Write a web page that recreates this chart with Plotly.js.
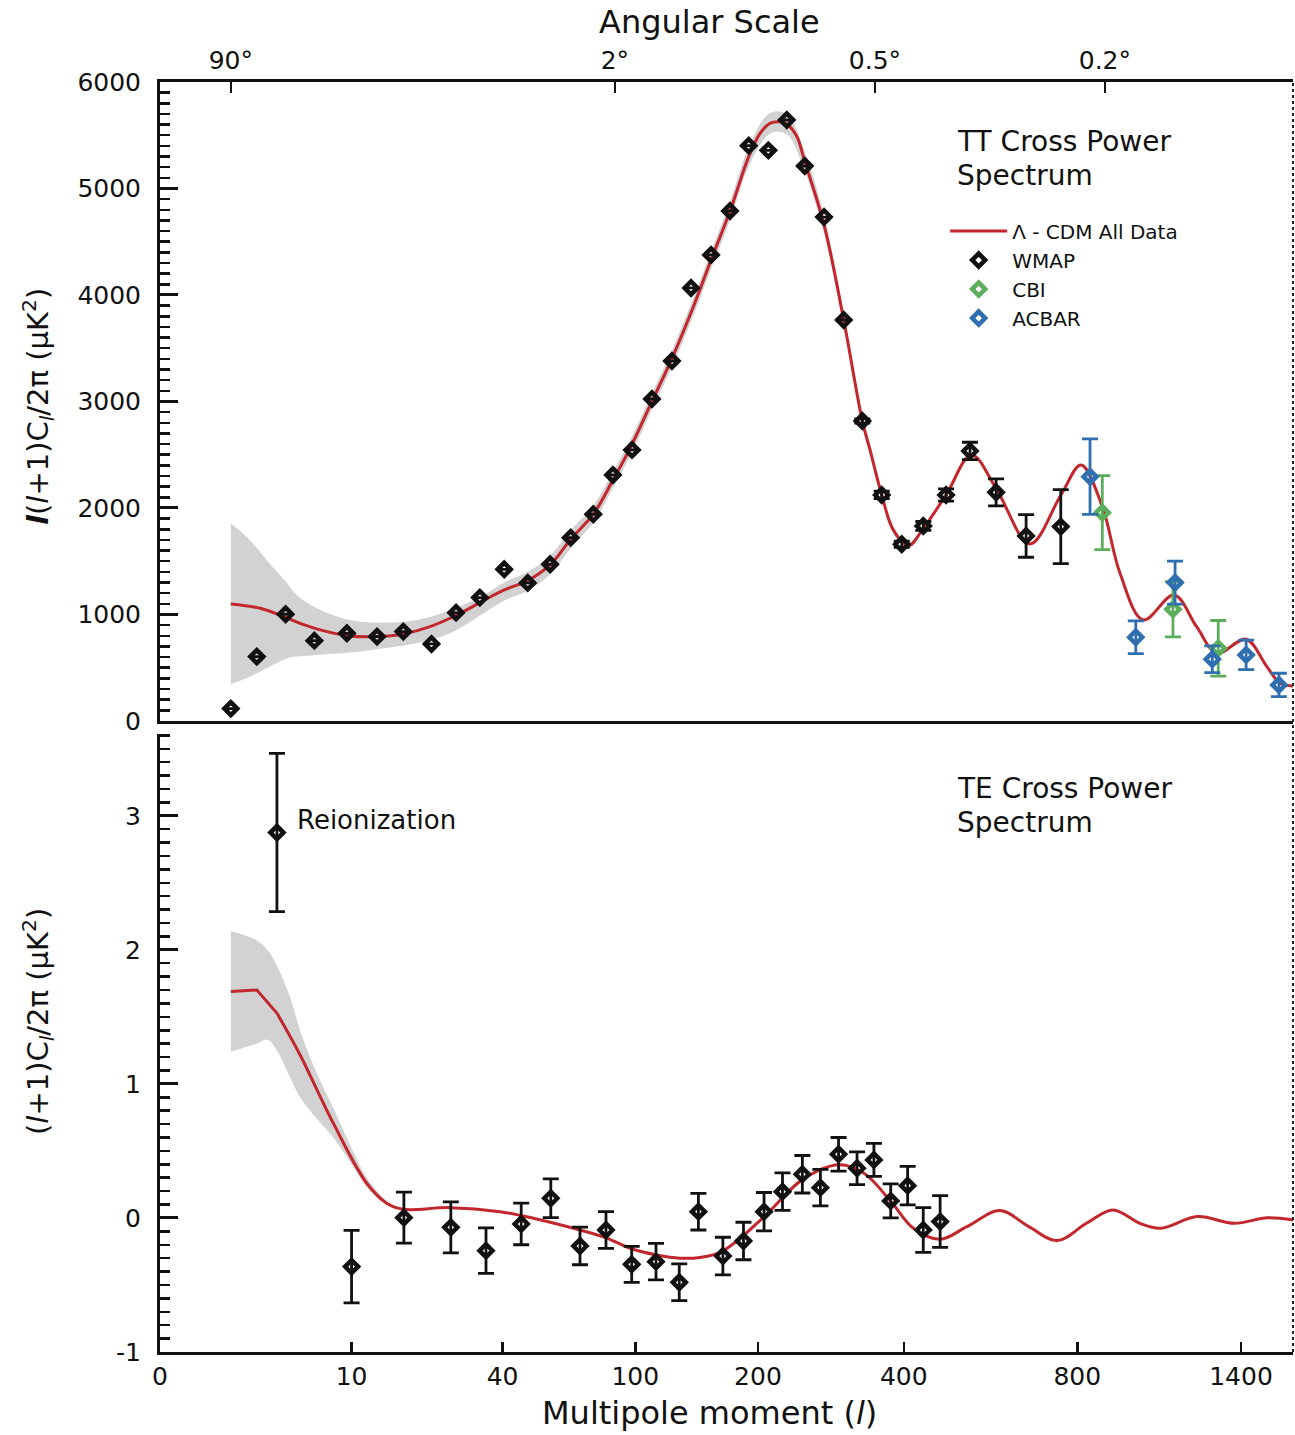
<!DOCTYPE html>
<html><head><meta charset="utf-8">
<script src="https://cdn.plot.ly/plotly-3.0.1.min.js"></script>
<style>html,body{margin:0;padding:0;background:#fff}#chart{width:1295px;height:1435px}</style>
</head><body><div id="chart"></div>
<script>
// ---------------- DATA ----------------
// TT model (Lambda-CDM all data)
const ttModelL = [2.0,3.15,4.37,5.44,7.24,9.83,13.1,17.0,21.8,27.6,34.4,40.5,48.4,56.9,65.7,76.5,86.9,96.8,110.6,125.2,139.9,155.6,172.9,190.6,202.2,212.8,222,231.6,243.4,253.2,277.9,305,332.4,344.2,362.8,382,408,435,479,532,587,670,753,811,876,933,1012,1124,1212,1295,1423,1519,1583,1650];
const ttModelV = [1099,1058,980,917,848,798,792,817,886,995,1130,1230,1318,1465,1706,1941,2263,2560,2998,3421,3859,4329,4798,5299,5518,5612,5627,5606,5490,5252,4660,3765,2817,2545,2122,1793,1646,1808,2122,2498,2184,1662,2122,2404,2012,1387,948,1183,885,636,767,510,354,329];
// TT cosmic-variance band
const ttBandL  = [2,2.7,3.46,4.6,5.2,6.7,9.8,14,19.3,26,34.4,40.5,48.4,56.9,65.7,76.5,86.9,96.8,110.6,125.2,139.9,155.6,172.9,190.6,212.8,231.6,253.2,277.9,305,332.4,344.2,362.8,382,408,435,479];
const ttBandLo = [347,416,495,589,605,620,642,683,730,823,1010,1130,1225,1375,1620,1860,2185,2485,2920,3340,3775,4245,4710,5205,5515,5510,5160,4575,3700,2760,2495,2080,1758,1616,1790,2110];
const ttBandHi = [1856,1700,1512,1293,1183,1058,948,923,948,1040,1180,1300,1400,1550,1790,2020,2340,2635,3075,3500,3940,4410,4885,5390,5710,5700,5345,4745,3830,2875,2595,2165,1828,1676,1826,2134];
// WMAP TT binned points
const wmapL = [2,3.0,4.5,6.5,9.5,13.1,17.0,22.1,27.4,33.4,40.5,48.4,56.9,65.7,76.5,86.9,98.0,110.7,124.6,139.1,155.6,172.5,190.6,211,231.6,253.2,277.9,305,332.4,362.8,396.4,435.1,479,528.6,587,660,752.6];
const wmapV = [116,604,1002,754,823,792,839,723,1017,1158,1424,1296,1471,1721,1941,2310,2545,3023,3380,4066,4376,4789,5402,5358,5643,5211,4732,3765,2817,2122,1659,1831,2122,2535,2147,1737,1825];
const wmapE = [null,null,null,null,null,null,null,null,null,null,null,null,null,null,null,null,null,null,null,null,null,null,null,null,null,null,null,null,20,35,30,42,58,82,127,200,347];
// CBI
const cbiL = [876,1120,1301];
const cbiV = [1956,1049,682];
const cbiE = [347,260,261];
// ACBAR
const acbarL = [838,986,1128,1276,1423,1577];
const acbarV = [2294,786,1299,579,620,338];
const acbarE = [355,153,202,125,138,110];

// TE model
const teModelL = [2,3,4,5.44,8.14,11.77,14.45,17,26,39.2,50.4,70,83.5,96.8,113.9,130.6,146,165,203,250,298,335,378,417,467,522,596,667,743,827,910,1000,1073,1215,1371,1522,1650];
const teModelV = [1.689,1.70,1.528,1.216,0.707,0.259,0.11,0.065,0.077,0.047,-0.002,-0.09,-0.15,-0.226,-0.276,-0.30,-0.295,-0.251,-0.015,0.284,0.396,0.333,0.122,-0.077,-0.159,-0.065,0.055,-0.065,-0.169,-0.04,0.06,-0.04,-0.077,0.01,-0.04,0.002,-0.015];
// TE band
const teBandL  = [2,3,3.5,4,4.77,5.44,6.5,8.14,10,11.77,14.45];
const teBandLo = [1.24,1.30,1.33,1.25,1.05,0.90,0.76,0.60,0.40,0.23,0.10];
const teBandHi = [2.14,2.07,2.00,1.88,1.65,1.40,1.12,0.82,0.52,0.30,0.12];
// WMAP TE points
const teL = [4,10,17.1,26.2,35.1,46.1,57.2,70,83.1,97.8,113.4,130,145,166,185.4,206.4,226.7,250.2,273.1,297.7,324.4,350.3,377.6,406.7,435,467.2];
const teV = [2.875,-0.363,0.002,-0.07,-0.244,-0.045,0.147,-0.209,-0.09,-0.346,-0.326,-0.48,0.047,-0.284,-0.172,0.047,0.196,0.326,0.226,0.475,0.371,0.433,0.127,0.241,-0.09,-0.027];
const teE = [0.59,0.27,0.19,0.19,0.17,0.155,0.145,0.14,0.137,0.134,0.136,0.137,0.137,0.14,0.14,0.143,0.14,0.14,0.136,0.125,0.122,0.123,0.127,0.143,0.167,0.193];

// axes / ticks
const lRange = [0.507, 1647];
const xTickL = [0.507,10,40,100,200,400,800,1400];
const xTickText = ['0','10','40','100','200','400','800','1400'];
const xMinorTickL = [300,600,1000,1200];
const angTickL = [2,88,352,884];
const angTickText = ['90°','2°','0.5°','0.2°'];
const ttTickV = [0,1000,2000,3000,4000,5000,6000];
const ttTickText = ['0','1000','2000','3000','4000','5000','6000'];
const teTickV = [-1,0,1,2,3];
const teTickText = ['-1','0','1','2','3'];

// ---------------- DRAW ----------------
const U = l => Math.pow(l, 0.25);
const Ua = a => a.map(U);
const FONT = 'DejaVu Sans, Liberation Sans, Arial, sans-serif';
const RED = '#c1272d', GREY = '#d2d2d2', BLK = '#111111', GREEN = '#5cae5c', BLUE = '#2f6fb0';

function pts(name, L, V, E, color, xa, ya, show) {
  return {type:'scatter', mode:'markers', name:name, x:Ua(L), y:V, xaxis:xa, yaxis:ya, showlegend:show,
    marker:{symbol:'diamond-open', size:10, color:color, line:{width:4.5, color:color}},
    error_y:{type:'data', array:E, visible:true, color:color, thickness:2.8, width:8},
    hoverinfo:'skip'};
}

const traces = [
  {type:'scatter', mode:'lines', x:Ua(ttBandL), y:ttBandLo, xaxis:'x2', yaxis:'y', line:{width:0, shape:'spline'}, showlegend:false, hoverinfo:'skip'},
  {type:'scatter', mode:'lines', x:Ua(ttBandL), y:ttBandHi, xaxis:'x2', yaxis:'y', line:{width:0, shape:'spline'}, fill:'tonexty', fillcolor:GREY, showlegend:false, hoverinfo:'skip'},
  {type:'scatter', mode:'lines', name:'Λ - CDM All Data', x:Ua(ttModelL), y:ttModelV, xaxis:'x2', yaxis:'y', line:{color:RED, width:3, shape:'spline'}, hoverinfo:'skip'},
  pts('WMAP', wmapL, wmapV, wmapE, BLK, 'x2', 'y', true),
  pts('CBI', cbiL, cbiV, cbiE, GREEN, 'x2', 'y', true),
  pts('ACBAR', acbarL, acbarV, acbarE, BLUE, 'x2', 'y', true),
  // TE panel
  {type:'scatter', mode:'lines', x:Ua(teBandL), y:teBandLo, xaxis:'x', yaxis:'y2', line:{width:0, shape:'spline'}, showlegend:false, hoverinfo:'skip'},
  {type:'scatter', mode:'lines', x:Ua(teBandL), y:teBandHi, xaxis:'x', yaxis:'y2', line:{width:0, shape:'spline'}, fill:'tonexty', fillcolor:GREY, showlegend:false, hoverinfo:'skip'},
  {type:'scatter', mode:'lines', x:Ua(teModelL.slice(0,3)), y:teModelV.slice(0,3), xaxis:'x', yaxis:'y2', line:{color:RED, width:3}, showlegend:false, hoverinfo:'skip'},
  {type:'scatter', mode:'lines', x:Ua(teModelL.slice(2)), y:teModelV.slice(2), xaxis:'x', yaxis:'y2', line:{color:RED, width:3, shape:'spline'}, showlegend:false, hoverinfo:'skip'},
  pts('WMAP TE', teL, teV, teE, BLK, 'x', 'y2', false)
];

const xr = [U(lRange[0]), U(lRange[1])];
const tickFont = {family:FONT, size:25, color:BLK};
const ann = (x, y, text, size, extra) => Object.assign({xref:'paper', yref:'paper', x:x, y:y, text:text, showarrow:false,
  xanchor:'center', yanchor:'middle', font:{family:FONT, size:size, color:BLK}}, extra || {});
const layout = {
  width:1295, height:1435,
  margin:{l:160, r:2, t:82, b:83},
  paper_bgcolor:'#fff', plot_bgcolor:'#fff',
  showlegend:true,
  legend:{x:0.693, y:0.898, xanchor:'left', yanchor:'top', traceorder:'normal', itemwidth:57,
    font:{family:FONT, size:20, color:BLK}, bgcolor:'rgba(0,0,0,0)', tracegroupgap:0},
  xaxis:{anchor:'y2', domain:[0,1], range:xr, tickmode:'array', tickvals:Ua(xTickL), ticktext:xTickText,
    ticks:'inside', ticklen:10, tickwidth:2.5, tickcolor:BLK, showline:true, linewidth:3, linecolor:BLK,
    showgrid:false, zeroline:false, tickfont:tickFont},
  xaxis3:{overlaying:'x', anchor:'y2', side:'bottom', range:xr, tickmode:'array', tickvals:Ua(xMinorTickL),
    ticks:'inside', ticklen:10, tickwidth:2.5, tickcolor:BLK, showticklabels:false, showline:false,
    showgrid:false, zeroline:false},
  xaxis2:{anchor:'y', side:'top', mirror:true, range:xr, tickmode:'array', tickvals:Ua(angTickL), ticktext:angTickText,
    ticks:'inside', ticklen:11, tickwidth:2.5, tickcolor:BLK, showline:true, linewidth:3, linecolor:BLK,
    showgrid:false, zeroline:false, tickfont:tickFont},
  yaxis:{anchor:'x2', domain:[0.4969,1], range:[0,6000], tickmode:'array', tickvals:ttTickV, ticktext:ttTickText,
    ticks:'inside', ticklen:18, tickwidth:3, tickcolor:BLK, ticklabelstandoff:11,
    minor:{tickmode:'linear', tick0:0, dtick:100, ticks:'inside', ticklen:10, tickwidth:2.5, tickcolor:BLK},
    showline:true, linewidth:3, linecolor:BLK, showgrid:false, zeroline:false, tickfont:tickFont},
  yaxis2:{anchor:'x', domain:[0,0.4866], range:[-1,3.61], tickmode:'array', tickvals:teTickV, ticktext:teTickText,
    ticks:'inside', ticklen:18, tickwidth:3, tickcolor:BLK, ticklabelstandoff:11,
    minor:{tickmode:'linear', tick0:0, dtick:0.1, ticks:'inside', ticklen:10, tickwidth:2.5, tickcolor:BLK},
    showline:true, linewidth:3, linecolor:BLK, showgrid:false, zeroline:false, tickfont:tickFont},
  yaxis3:{overlaying:'y', anchor:'x2', side:'right', range:[0,6000], tickmode:'array', tickvals:[1000,2000,3000,4000,5000],
    ticks:'inside', ticklen:13, tickwidth:3, tickcolor:BLK, showticklabels:false, showline:false, showgrid:false, zeroline:false},
  yaxis4:{overlaying:'y2', anchor:'x', side:'right', range:[-1,3.61], tickmode:'array', tickvals:[0,1,2,3],
    ticks:'inside', ticklen:13, tickwidth:3, tickcolor:BLK, showticklabels:false, showline:false, showgrid:false, zeroline:false},
  shapes:[
    {type:'line', xref:'paper', yref:'paper', x0:1, x1:1, y0:0, y1:1, line:{color:'#222', width:2, dash:'dot'}}
  ],
  annotations:[
    ann(0.4846, 1.0472, 'Angular Scale', 32),
    ann(0.4846, -0.048, 'Multipole moment (<i>l</i>)', 32),
    ann(-0.1077, 0.7449, '<i><b>l</b></i>(<i>l</i>+1)C<sub><i>l</i></sub>/2π (μK<sup>2</sup>)', 29, {textangle:-90}),
    ann(-0.1077, 0.2606, '(<i>l</i>+1)C<sub><i>l</i></sub>/2π (μK<sup>2</sup>)', 29, {textangle:-90}),
    ann(0.7017, (1352-141)/1270, 'TT Cross Power', 28, {xanchor:'left'}),
    ann(0.7017, (1352-175)/1270, 'Spectrum', 28, {xanchor:'left'}),
    ann(0.7017, (1352-788)/1270, 'TE Cross Power', 28, {xanchor:'left'}),
    ann(0.7017, (1352-822)/1270, 'Spectrum', 28, {xanchor:'left'}),
    ann(0.119, 0.419, 'Reionization', 26, {xanchor:'left'})
  ]
};

Plotly.newPlot('chart', traces, layout, {staticPlot:true});
</script></body></html>
